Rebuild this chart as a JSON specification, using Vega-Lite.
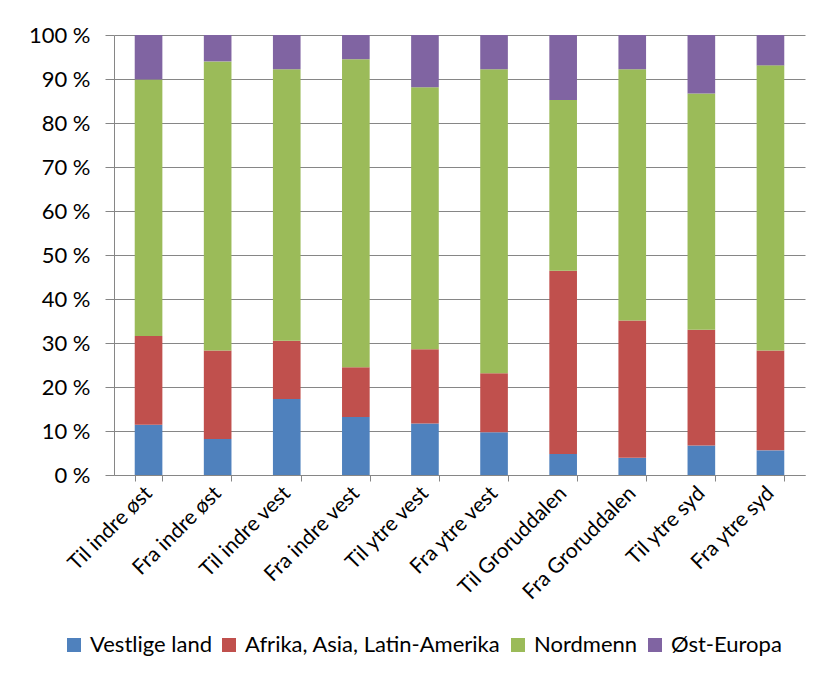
{
  "$schema": "https://vega.github.io/schema/vega-lite/v6.json",
  "autosize": {"type": "none"},
  "width": 691,
  "height": 440,
  "padding": {"left": 114, "top": 35, "right": 17, "bottom": 205},
  "background": "white",
  "data": {
    "values": [
      {"k": "Til indre øst", "s": "Vestlige land", "o": 1, "v": 11.4},
      {"k": "Til indre øst", "s": "Afrika, Asia, Latin-Amerika", "o": 2, "v": 20.2},
      {"k": "Til indre øst", "s": "Nordmenn", "o": 3, "v": 58.3},
      {"k": "Til indre øst", "s": "Øst-Europa", "o": 4, "v": 10.1},
      {"k": "Fra indre øst", "s": "Vestlige land", "o": 1, "v": 8.2},
      {"k": "Fra indre øst", "s": "Afrika, Asia, Latin-Amerika", "o": 2, "v": 20.1},
      {"k": "Fra indre øst", "s": "Nordmenn", "o": 3, "v": 65.7},
      {"k": "Fra indre øst", "s": "Øst-Europa", "o": 4, "v": 6.0},
      {"k": "Til indre vest", "s": "Vestlige land", "o": 1, "v": 17.3},
      {"k": "Til indre vest", "s": "Afrika, Asia, Latin-Amerika", "o": 2, "v": 13.2},
      {"k": "Til indre vest", "s": "Nordmenn", "o": 3, "v": 61.7},
      {"k": "Til indre vest", "s": "Øst-Europa", "o": 4, "v": 7.8},
      {"k": "Fra indre vest", "s": "Vestlige land", "o": 1, "v": 13.2},
      {"k": "Fra indre vest", "s": "Afrika, Asia, Latin-Amerika", "o": 2, "v": 11.3},
      {"k": "Fra indre vest", "s": "Nordmenn", "o": 3, "v": 70.0},
      {"k": "Fra indre vest", "s": "Øst-Europa", "o": 4, "v": 5.5},
      {"k": "Til ytre vest", "s": "Vestlige land", "o": 1, "v": 11.7},
      {"k": "Til ytre vest", "s": "Afrika, Asia, Latin-Amerika", "o": 2, "v": 16.9},
      {"k": "Til ytre vest", "s": "Nordmenn", "o": 3, "v": 59.5},
      {"k": "Til ytre vest", "s": "Øst-Europa", "o": 4, "v": 11.9},
      {"k": "Fra ytre vest", "s": "Vestlige land", "o": 1, "v": 9.7},
      {"k": "Fra ytre vest", "s": "Afrika, Asia, Latin-Amerika", "o": 2, "v": 13.4},
      {"k": "Fra ytre vest", "s": "Nordmenn", "o": 3, "v": 69.1},
      {"k": "Fra ytre vest", "s": "Øst-Europa", "o": 4, "v": 7.8},
      {"k": "Til Groruddalen", "s": "Vestlige land", "o": 1, "v": 4.8},
      {"k": "Til Groruddalen", "s": "Afrika, Asia, Latin-Amerika", "o": 2, "v": 41.6},
      {"k": "Til Groruddalen", "s": "Nordmenn", "o": 3, "v": 38.8},
      {"k": "Til Groruddalen", "s": "Øst-Europa", "o": 4, "v": 14.8},
      {"k": "Fra Groruddalen", "s": "Vestlige land", "o": 1, "v": 3.9},
      {"k": "Fra Groruddalen", "s": "Afrika, Asia, Latin-Amerika", "o": 2, "v": 31.2},
      {"k": "Fra Groruddalen", "s": "Nordmenn", "o": 3, "v": 57.1},
      {"k": "Fra Groruddalen", "s": "Øst-Europa", "o": 4, "v": 7.8},
      {"k": "Til ytre syd", "s": "Vestlige land", "o": 1, "v": 6.7},
      {"k": "Til ytre syd", "s": "Afrika, Asia, Latin-Amerika", "o": 2, "v": 26.3},
      {"k": "Til ytre syd", "s": "Nordmenn", "o": 3, "v": 53.7},
      {"k": "Til ytre syd", "s": "Øst-Europa", "o": 4, "v": 13.3},
      {"k": "Fra ytre syd", "s": "Vestlige land", "o": 1, "v": 5.6},
      {"k": "Fra ytre syd", "s": "Afrika, Asia, Latin-Amerika", "o": 2, "v": 22.7},
      {"k": "Fra ytre syd", "s": "Nordmenn", "o": 3, "v": 64.8},
      {"k": "Fra ytre syd", "s": "Øst-Europa", "o": 4, "v": 6.9}
    ]
  },
  "mark": {"type": "bar"},
  "encoding": {
    "x": {
      "field": "k",
      "type": "nominal",
      "sort": null,
      "title": null,
      "scale": {"paddingInner": 0.6, "paddingOuter": 0.3},
      "axis": {
        "labelAngle": -45,
        "labelAlign": "right",
        "labelBaseline": "middle",
        "labelPadding": 9,
        "labelFontSize": 21,
        "labelFont": "Lato",
        "labelColor": "#000000",
        "tickBand": "extent",
        "tickSize": 6,
        "tickColor": "#868686",
        "domainColor": "#868686",
        "labelLimit": 300
      }
    },
    "y": {
      "field": "v",
      "type": "quantitative",
      "stack": "normalize",
      "title": null,
      "scale": {"domain": [0, 1], "nice": false},
      "axis": {
        "values": [0, 0.1, 0.2, 0.3, 0.4, 0.5, 0.6, 0.7, 0.8, 0.9, 1],
        "labelExpr": "round(datum.value * 100) + ' %'",
        "labelFontSize": 22,
        "labelFont": "Lato",
        "labelColor": "#000000",
        "labelPadding": 15,
        "tickSize": 9,
        "tickColor": "#868686",
        "domainColor": "#868686",
        "grid": true,
        "gridColor": "#868686",
        "gridOpacity": 1
      }
    },
    "color": {
      "field": "s",
      "type": "nominal",
      "sort": ["Vestlige land", "Afrika, Asia, Latin-Amerika", "Nordmenn", "Øst-Europa"],
      "scale": {
        "domain": ["Vestlige land", "Afrika, Asia, Latin-Amerika", "Nordmenn", "Øst-Europa"],
        "range": ["#4F81BD", "#C0504D", "#9BBB59", "#8064A2"]
      },
      "legend": {
        "title": null,
        "orient": "none",
        "direction": "horizontal",
        "legendX": -51,
        "legendY": 599,
        "symbolType": "square",
        "symbolSize": 196,
        "symbolStrokeWidth": 0,
        "labelFontSize": 22,
        "labelFont": "Lato",
        "labelColor": "#000000",
        "labelOffset": 5,
        "columnPadding": 6,
        "labelLimit": 400
      }
    },
    "order": {"field": "o", "type": "quantitative"}
  },
  "config": {
    "view": {"stroke": null}
  }
}
